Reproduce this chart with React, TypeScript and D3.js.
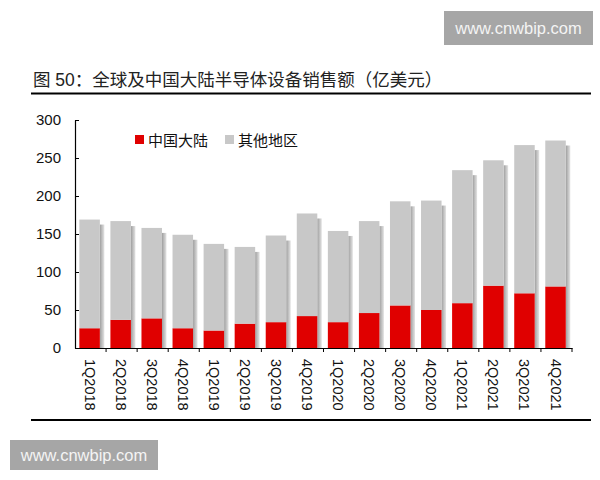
import React, { useEffect, useRef } from 'react';
import * as d3 from 'd3';

// 季度
const quarters = [
  '1Q2018', '2Q2018', '3Q2018', '4Q2018',
  '1Q2019', '2Q2019', '3Q2019', '4Q2019',
  '1Q2020', '2Q2020', '3Q2020', '4Q2020',
  '1Q2021', '2Q2021', '3Q2021', '4Q2021',
];
// 中国大陆 (亿美元)
const chinaValues = [26, 37, 39, 26, 23, 32, 34, 42, 34, 46, 56, 50, 59, 82, 72, 81];
// 其他地区 (亿美元)
const otherValues = [143, 130, 119, 123, 114, 101, 114, 135, 120, 121, 137, 144, 175, 165, 195, 192];
const yTicks = [0, 50, 100, 150, 200, 250, 300];
const seriesNames = ['中国大陆', '其他地区'];

const title = '图 50：全球及中国大陆半导体设备销售额（亿美元）';
const watermark = 'www.cnwbip.com';

const RED = '#e00000';
const GRAY = '#c8c8c8';
const FONT = '"Liberation Sans", Arial, "Noto Sans CJK SC", sans-serif';

const width = 600;
const height = 480;
const margin = { left: 75, right: 28, top: 120, bottom: 132 };

const App = () => {
  const yAxisRef = useRef<SVGGElement>(null);
  const xAxisRef = useRef<SVGGElement>(null);

  const x = d3.scaleBand<string>()
    .domain(quarters)
    .range([margin.left, width - margin.right]);
  const y = d3.scaleLinear()
    .domain([0, 300])
    .range([height - margin.bottom, margin.top]);

  const bw = x.bandwidth();
  const barW = bw * 0.66;
  const barOff = bw * 0.14;
  const shadowW = 4.5;

  const stack = d3.stack<number>()
    .keys([0, 1])
    .value((i, k) => (k === 0 ? chinaValues[i] : otherValues[i]));
  const layers = stack(d3.range(quarters.length));

  useEffect(() => {
    const gy = d3.select(yAxisRef.current);
    gy.selectAll('*').remove();
    gy.call(
      d3.axisLeft(y).tickValues(yTicks).tickSizeInner(-4).tickSizeOuter(0).tickPadding(14)
    );
    gy.select('.domain').attr('stroke', '#000').attr('stroke-width', 1.2);
    gy.selectAll('.tick line').attr('stroke', '#000');
    gy.selectAll('.tick text')
      .attr('font-size', 15)
      .attr('font-family', FONT)
      .attr('fill', '#111');

    const gx = d3.select(xAxisRef.current);
    gx.selectAll('*').remove();
    gx.call(d3.axisBottom(x).tickSize(0).tickFormat(() => ''));
    gx.select('.domain').attr('stroke', '#000').attr('stroke-width', 1.2);
    gx.selectAll('.tick').remove();
    // 分隔刻度
    gx.selectAll('line.sep')
      .data(quarters)
      .join('line')
      .attr('class', 'sep')
      .attr('x1', d => (x(d) as number) + bw)
      .attr('x2', d => (x(d) as number) + bw)
      .attr('y1', 0)
      .attr('y2', 4)
      .attr('stroke', '#000');
    gx.selectAll('text.lbl')
      .data(quarters)
      .join('text')
      .attr('class', 'lbl')
      .attr('transform', d => `translate(${(x(d) as number) + barOff + barW / 2},11) rotate(90)`)
      .attr('text-anchor', 'start')
      .attr('dominant-baseline', 'central')
      .attr('font-size', 14.5)
      .attr('font-family', FONT)
      .attr('fill', '#111')
      .text(d => d);
  }, []);

  const y0 = height - margin.bottom;

  return (
    <svg width={width} height={height} style={{ position: 'absolute', left: 0, top: 0, background: '#fff' }}>
      <defs>
        <linearGradient id="shadow" x1="0" x2="1" y1="0" y2="0">
          <stop offset="0%" stopColor="#9e9e9e" />
          <stop offset="100%" stopColor="#e4e4e4" />
        </linearGradient>
      </defs>

      {/* 水印 */}
      <rect x={444} y={11} width={149} height={34} fill="#a6a6a6" />
      <text x={518.5} y={28} textAnchor="middle" dominantBaseline="central"
        fontSize={16.5} fontFamily={FONT} fill="#f4f4f4">{watermark}</text>
      <rect x={10} y={440} width={148} height={30} fill="#a6a6a6" />
      <text x={84} y={455} textAnchor="middle" dominantBaseline="central"
        fontSize={16.5} fontFamily={FONT} fill="#f4f4f4">{watermark}</text>

      {/* 标题 */}
      <text x={33} y={86} fontSize={17.5} fontFamily={FONT} fill="#222">{title}</text>
      <line x1={31} x2={591} y1={93.5} y2={93.5} stroke="#000" strokeWidth={2} />
      <line x1={31} x2={591} y1={420} y2={420} stroke="#000" strokeWidth={2} />

      {/* 阴影 */}
      {quarters.map((q, i) => {
        const top = y(layers[1][i][1]);
        return (
          <rect key={'s' + q} x={(x(q) as number) + barOff + barW} y={top + 5}
            width={shadowW} height={y0 - top - 5} fill="url(#shadow)" />
        );
      })}

      {/* 堆叠柱 */}
      {layers.map((layer, k) => (
        <g key={k} fill={k === 0 ? RED : GRAY}>
          {layer.map((d, i) => (
            <rect key={quarters[i]} x={(x(quarters[i]) as number) + barOff}
              y={y(d[1])} width={barW} height={y(d[0]) - y(d[1])} />
          ))}
        </g>
      ))}

      <g ref={xAxisRef} transform={`translate(0,${y0})`} />
      <g ref={yAxisRef} transform={`translate(${margin.left},0)`} />

      {/* 图例 */}
      <g fontFamily={FONT} fontSize={15} fill="#111">
        <rect x={135} y={135} width={9} height={9} fill={RED} />
        <text x={148} y={140} dominantBaseline="central">{seriesNames[0]}</text>
        <rect x={225} y={135} width={9} height={9} fill={GRAY} />
        <text x={238} y={140} dominantBaseline="central">{seriesNames[1]}</text>
      </g>
    </svg>
  );
};

export default App;
